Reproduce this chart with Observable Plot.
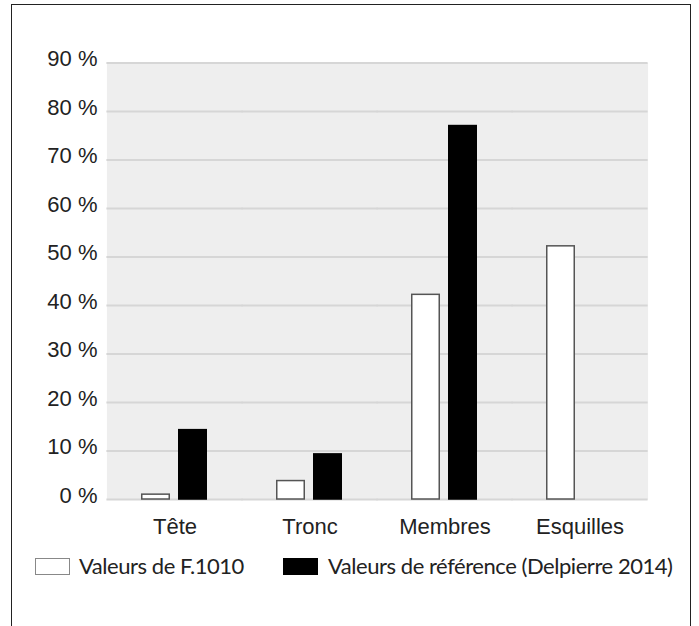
<!DOCTYPE html>
<html>
<head>
<meta charset="utf-8">
<script src="https://cdn.jsdelivr.net/npm/d3@7"></script>
<script src="https://cdn.jsdelivr.net/npm/@observablehq/plot@0.6"></script>
<style>
  html, body { margin: 0; padding: 0; background: #fff; }
  #wrap { position: relative; width: 699px; height: 626px; overflow: hidden; background: #fff; }
  #frame { position: absolute; left: 11px; top: 4px; width: 680px; height: 660px; border: 1.5px solid #222; box-sizing: border-box; }
  #chart { position: absolute; left: 0; top: 0; }
  #legend { position: absolute; left: 0; top: 552px; width: 699px; height: 30px; font-family: Lato, "Open Sans", sans-serif; font-size: 22px; color: #222; }
  .sw { position: absolute; top: 6px; width: 35px; height: 17px; box-sizing: border-box; }
  .lt { position: absolute; top: 0px; white-space: nowrap; line-height: 28px; letter-spacing: -0.45px; }
</style>
</head>
<body>
<div id="wrap">
  <div id="frame"></div>
  <div id="chart"></div>
  <div id="legend"></div>
</div>
<script>
const categories = ["Tête", "Tronc", "Membres", "Esquilles"];
const series = ["Valeurs de F.1010", "Valeurs de référence (Delpierre 2014)"];
const valeursF1010 = [1, 3.8, 42.2, 52.2];
const valeursReference = [14.3, 9.3, 77, null];
const yTicks = [0, 10, 20, 30, 40, 50, 60, 70, 80, 90];
const seriesFill = ["#ffffff", "#000000"];
const seriesStroke = ["#555555", "#000000"];

const data = [];
categories.forEach((c, i) => {
  if (valeursF1010[i] != null) data.push({categorie: c, serie: series[0], valeur: valeursF1010[i]});
  if (valeursReference[i] != null) data.push({categorie: c, serie: series[1], valeur: valeursReference[i]});
});

const chart = Plot.plot({
  width: 699,
  height: 545,
  marginLeft: 106,
  marginRight: 51,
  marginTop: 62.5,
  marginBottom: 46,
  style: {fontFamily: "'Liberation Sans', Arial, sans-serif", fontSize: "22px", color: "#222", background: "transparent"},
  fx: {domain: categories, padding: 0, label: null},
  x: {domain: series, paddingInner: 0.21, paddingOuter: 0.888, axis: null},
  y: {domain: [0, 90], ticks: yTicks, label: null},
  color: {domain: series, range: seriesFill},
  marks: [
    Plot.frame({fill: "#eeeeee", stroke: null, insetLeft: -0.6, insetRight: -0.6}),
    Plot.ruleY(yTicks, {stroke: "#d6d6d6", strokeWidth: 2, insetLeft: -0.6, insetRight: -0.6}),
    Plot.barY(data, {
      fx: "categorie",
      x: "serie",
      y: "valeur",
      fill: "serie",
      stroke: d => d.serie === series[0] ? seriesStroke[0] : seriesStroke[1],
      strokeWidth: 1.5,
      insetLeft: 0.75,
      insetRight: 0.75
    }),
    Plot.axisY({ticks: yTicks, tickSize: 0, tickPadding: 10, tickFormat: d => d + " %", dy: -4, fontSize: 22, label: null}),
    Plot.axisFx({anchor: "bottom", tickSize: 0, tickPadding: 19, fontSize: 22, label: null})
  ]
});
document.getElementById("chart").appendChild(chart);

const legend = document.getElementById("legend");
const legendItems = [
  {x: 35, tx: 79},
  {x: 283, tx: 328}
];
series.forEach((s, i) => {
  const sw = document.createElement("div");
  sw.className = "sw";
  sw.style.left = legendItems[i].x + "px";
  sw.style.background = seriesFill[i];
  sw.style.border = "1.5px solid " + (i === 0 ? "#888" : "#000");
  legend.appendChild(sw);
  const t = document.createElement("span");
  t.className = "lt";
  t.style.left = legendItems[i].tx + "px";
  t.textContent = s;
  legend.appendChild(t);
});
</script>
</body>
</html>
